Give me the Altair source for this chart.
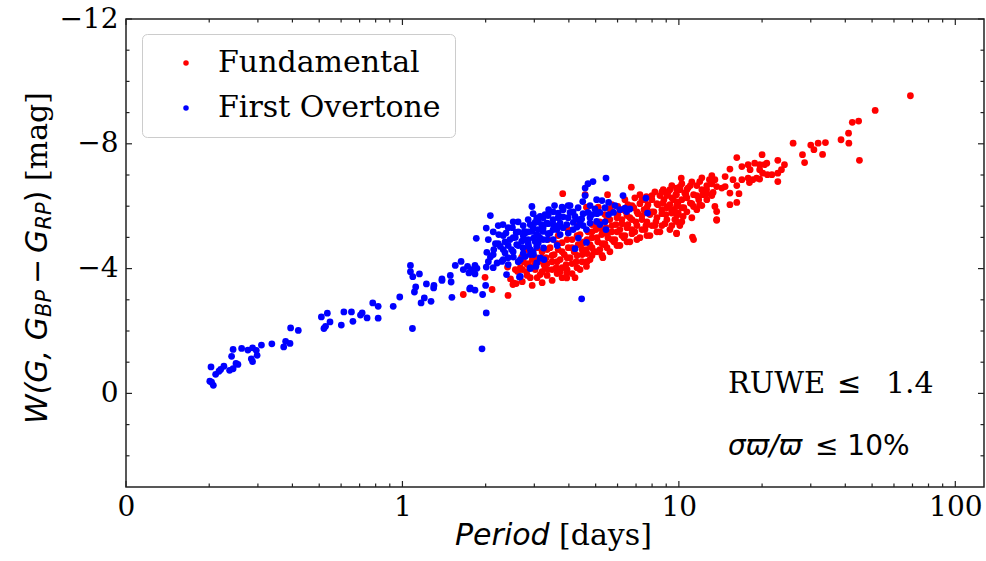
import altair as alt
import pandas as pd

# ---------------- data (period [days], W magnitude) ----------------
fundamental = [
    (1.66, -3.17), (2.11, -3.33), (1.99, -3.72), (2.41, -3.14), (2.40, -4.05), (2.46, -3.67),
    (2.52, -3.54), (2.58, -3.52), (2.51, -3.49), (2.56, -3.97), (2.61, -3.91), (3.00, -4.10),
    (3.06, -4.34), (2.70, -4.37), (3.80, -6.40), (4.58, -6.37), (5.52, -6.37), (6.73, -6.61),
    (8.78, -6.53), (9.81, -6.58), (4.63, -5.97), (5.11, -5.97), (5.63, -5.91), (6.01, -5.99),
    (9.81, -5.14), (3.28, -4.02), (3.93, -3.86), (3.93, -3.70), (4.63, -4.07), (11.3, -4.93),
    (13.7, -5.57), (7.63, -6.31),
    (2.67, -4.03), (2.74, -4.22), (2.81, -3.90), (2.85, -4.16), (2.90, -3.71), (2.95, -4.29),
    (3.02, -3.97), (3.10, -4.22), (3.15, -3.81), (3.20, -4.54), (3.25, -4.13), (3.31, -4.35),
    (3.36, -3.97), (3.42, -4.67), (3.48, -4.22), (3.54, -4.45), (3.60, -4.03), (3.66, -4.61),
    (3.72, -4.29), (3.78, -4.83), (3.85, -4.45), (3.91, -4.13), (3.98, -4.67), (4.04, -4.35),
    (4.11, -4.93), (4.18, -4.54), (4.25, -4.22), (4.32, -4.77), (4.39, -5.09), (4.47, -4.45),
    (4.54, -4.86), (4.62, -4.61), (4.69, -5.18), (4.77, -4.77), (4.85, -4.99), (4.93, -4.54),
    (5.01, -5.25), (5.09, -4.86), (5.18, -5.50), (5.26, -5.09), (5.35, -4.77), (5.45, -5.31),
    (5.54, -4.99), (5.63, -5.57), (5.72, -5.18), (5.82, -4.86), (5.92, -5.41), (6.02, -5.73),
    (6.12, -5.25), (6.22, -5.57), (6.33, -4.99), (6.43, -5.82), (6.54, -5.41), (6.65, -5.63),
    (6.76, -5.25), (6.87, -5.95), (6.99, -5.50), (7.11, -5.76), (7.23, -6.08), (7.35, -5.57),
    (7.48, -5.89), (7.60, -5.38), (7.73, -6.05), (7.86, -5.73), (7.99, -6.21), (8.12, -5.82),
    (8.26, -5.50), (8.40, -6.05), (8.54, -6.34), (8.68, -5.89), (8.83, -6.21), (8.97, -5.73),
    (9.13, -6.43), (9.28, -6.05), (9.43, -6.27), (9.59, -5.89), (9.75, -6.37), (9.92, -6.11),
    (10.08, -6.53), (10.25, -6.21), (10.42, -5.95), (10.6, -6.37), (10.8, -6.59),
    (5.18, -4.61), (5.40, -4.80), (5.63, -4.54), (5.87, -4.93), (6.12, -4.74), (6.38, -5.06),
    (6.65, -4.86), (6.93, -5.18), (7.23, -4.99), (7.54, -5.25), (7.86, -5.06), (8.19, -5.38),
    (8.54, -5.18), (8.90, -5.44), (9.28, -5.25), (9.67, -5.57), (10.08, -5.38),
    (3.36, -4.93), (3.66, -5.06), (3.98, -5.25), (4.32, -5.38), (5.40, -5.73), (5.72, -6.05),
    (6.38, -6.21), (7.23, -6.37), (8.19, -6.46), (5.31, -4.35), (4.77, -4.29), (4.39, -3.97),
    (3.72, -3.90), (4.21, -3.71), (4.85, -5.41), (6.54, -6.05), (7.54, -6.21), (6.93, -6.27),
    (2.713, -3.97), (2.713, -3.58), (2.713, -4.35), (2.827, -3.78), (2.827, -4.61), (2.827, -4.13),
    (2.947, -3.46), (2.947, -4.03), (2.947, -4.45), (3.072, -4.22), (3.072, -3.71), (3.072, -4.67),
    (3.202, -3.90), (3.202, -4.35), (3.202, -3.55), (3.338, -4.16), (3.338, -3.78), (3.338, -4.61),
    (3.479, -3.97), (3.479, -4.42), (3.479, -3.62), (3.627, -4.22), (3.627, -3.84), (3.627, -4.80),
    (3.781, -4.03), (3.781, -4.54), (3.781, -3.71), (3.941, -4.35), (3.941, -3.97), (3.941, -4.93),
    (4.108, -4.16), (4.108, -4.67), (4.108, -3.84), (4.282, -4.42), (4.282, -4.03), (4.282, -5.06),
    (4.464, -4.22), (4.464, -4.80), (4.464, -4.61), (4.654, -4.48), (4.654, -4.93), (4.654, -4.22),
    (4.851, -4.67), (4.851, -5.18), (4.851, -4.42), (5.058, -4.54), (5.058, -4.99), (5.058, -5.38),
    (5.272, -4.80), (5.272, -5.25), (5.272, -4.42), (5.496, -4.67), (5.496, -5.12), (5.496, -5.57),
    (5.729, -4.93), (5.729, -5.38), (5.729, -5.82), (5.972, -4.74), (5.972, -5.18), (5.972, -5.63),
    (6.225, -5.06), (6.225, -5.44), (6.225, -5.89), (6.49, -4.86), (6.49, -5.31), (6.49, -5.70),
    (6.765, -5.12), (6.765, -5.57), (6.765, -6.02), (7.052, -4.93), (7.052, -5.38), (7.052, -5.82),
    (7.351, -5.25), (7.351, -5.70), (7.351, -6.21), (7.663, -5.06), (7.663, -5.50), (7.663, -5.95),
    (7.988, -5.38), (7.988, -5.82), (7.988, -6.34), (8.33, -5.18), (8.33, -5.63), (8.33, -6.08),
    (8.68, -5.38), (8.68, -5.76), (8.68, -6.46), (9.05, -5.57), (9.05, -5.95), (9.05, -6.34),
    (9.43, -5.38), (9.43, -5.82), (9.43, -6.66), (9.83, -5.70), (9.83, -6.14), (9.83, -6.53),
    (10.25, -5.50), (10.25, -5.95), (10.25, -6.72), (10.69, -5.82), (10.69, -6.27), (10.69, -6.53),
    (11.14, -5.63), (11.14, -6.08), (11.14, -6.78), (11.61, -5.89), (11.61, -6.34), (11.61, -6.66),
    (12.11, -6.02), (12.11, -6.53), (12.11, -6.91), (12.62, -6.21), (12.62, -6.66), (12.62, -6.40),
    (13.16, -6.34), (13.16, -6.72), (13.16, -6.98),
    (68.8, -9.54), (51.3, -9.07), (42.4, -8.69), (44.7, -8.73), (41.1, -8.34), (38.6, -8.13),
    (41.2, -8.02), (45.0, -7.47), (33.9, -8.04), (31.9, -8.02), (30.0, -7.96), (30.8, -7.81),
    (33.1, -7.66), (28.0, -7.65), (28.5, -7.40), (25.9, -8.02), (22.8, -7.47), (24.1, -7.33),
    (23.5, -7.17), (22.8, -7.06), (22.8, -6.79), (20.0, -7.65), (18.8, -7.38), (19.6, -7.33),
    (20.4, -7.33), (20.8, -7.38), (19.6, -7.17), (20.1, -7.06), (20.9, -7.01), (21.7, -7.01),
    (19.6, -6.87), (19.1, -6.90), (16.2, -7.56), (16.9, -7.27), (17.8, -7.33), (18.1, -7.17),
    (17.8, -6.90), (18.5, -6.85), (16.9, -6.85), (18.0, -6.76), (15.3, -7.19), (14.7, -6.95),
    (15.7, -6.85), (16.2, -6.66), (16.5, -6.40), (16.2, -6.12), (15.3, -6.05), (13.5, -6.85),
    (12.9, -6.85), (11.9, -6.79), (13.7, -6.63), (14.3, -6.58), (14.7, -6.63), (15.3, -6.42),
    (13.3, -6.44), (12.6, -6.53), (12.2, -6.37), (11.8, -6.21), (11.3, -6.37), (11.0, -6.66),
    (10.2, -6.90), (10.1, -6.63), (10.5, -6.42), (11.0, -6.10), (11.3, -5.99), (13.5, -5.99),
    (13.7, -5.83), (13.7, -5.55), (9.8, -6.37), (9.28, -6.53), (8.90, -6.47), (8.76, -6.10),
    (9.16, -5.99), (9.55, -6.21), (9.81, -5.99), (9.95, -5.78), (9.42, -5.78), (9.81, -5.51),
    (10.36, -5.67), (9.81, -5.12), (11.2, -5.01), (11.9, -6.05),
]

first_overtone = [
    (0.203, -0.85), (0.201, -0.39), (0.207, -0.26), (0.204, -0.36), (0.211, -0.61), (0.217, -0.71),
    (0.220, -0.77), (0.226, -0.87), (0.237, -0.74), (0.244, -0.79), (0.250, -0.96), (0.254, -0.93),
    (0.241, -1.19), (0.244, -1.41), (0.262, -1.44), (0.276, -1.39), (0.287, -1.46), (0.296, -1.38),
    (0.298, -1.22), (0.284, -1.11), (0.287, -1.02), (0.309, -1.55), (0.337, -1.59), (0.372, -1.49),
    (0.378, -1.67), (0.392, -1.60), (0.394, -2.10), (0.420, -2.02), (0.509, -2.45), (0.535, -2.57),
    (0.547, -2.29), (0.520, -2.08), (0.527, -2.15), (0.601, -2.19), (0.614, -2.61), (0.654, -2.61),
    (0.662, -2.31), (0.705, -2.51), (0.715, -2.58), (0.745, -2.42), (0.781, -2.90), (0.817, -2.79),
    (0.817, -2.41), (0.926, -2.79), (0.978, -3.09), (1.087, -2.08), (1.105, -3.25), (1.117, -3.41),
    (1.069, -4.10), (1.069, -3.90), (1.09, -3.74), (1.152, -3.83), (1.168, -2.90), (1.20, -3.06),
    (1.269, -2.95), (1.221, -3.51), (1.297, -3.38), (1.30, -3.46), (1.39, -3.62), (1.50, -3.57),
    (1.51, -3.08), (1.75, -3.35), (1.83, -3.31), (1.94, -1.43), (1.95, -3.17), (2.01, -2.58),
    (2.00, -3.46), (1.39, -3.67), (1.49, -3.78), (1.553, -4.10), (1.63, -4.23), (1.66, -3.97),
    (1.72, -4.07), (1.78, -3.97), (1.83, -4.10), (1.86, -4.01), (1.74, -3.86), (1.83, -3.83),
    (2.01, -4.05), (1.85, -4.97), (2.01, -5.30), (2.08, -5.70), (2.02, -4.52), (2.08, -4.37),
    (1.76, -3.38), (2.23, -5.09), (2.37, -5.14), (2.58, -5.16), (2.76, -5.19), (2.94, -5.99),
    (3.06, -5.62), (2.14, -4.61), (2.26, -4.71), (2.35, -4.50), (2.48, -4.61), (2.59, -4.77),
    (2.74, -4.93), (2.86, -4.71), (2.98, -4.98), (3.10, -4.82), (2.20, -4.18), (2.29, -4.23),
    (2.52, -4.37), (2.67, -4.29), (2.90, -4.45), (2.90, -4.00), (3.06, -4.18), (2.38, -3.81),
    (2.65, -3.73), (5.45, -6.90), (4.89, -6.79), (4.69, -6.72), (4.58, -6.58), (4.58, -6.34),
    (4.49, -6.15), (5.04, -6.21), (5.27, -6.18), (5.57, -6.12), (6.28, -6.34), (7.60, -6.26),
    (3.55, -6.02), (3.78, -5.97), (4.04, -6.02), (3.66, -5.78), (4.04, -5.80), (4.21, -5.67),
    (4.45, -5.59), (4.69, -5.80), (4.97, -5.91), (5.18, -5.80), (5.57, -5.73), (5.80, -5.80),
    (6.12, -5.89), (6.38, -5.94), (6.47, -5.83), (6.65, -5.91), (7.70, -5.78), (3.15, -5.67),
    (2.90, -5.41), (3.02, -5.48), (3.19, -5.41), (3.33, -5.46), (3.51, -5.41), (3.72, -5.46),
    (3.93, -5.41), (4.15, -5.48), (4.28, -5.33), (4.39, -5.46), (4.77, -5.46), (5.04, -5.51),
    (2.78, -5.14), (2.94, -5.19), (3.06, -5.09), (3.23, -5.19), (3.42, -5.14), (3.62, -5.25),
    (3.72, -5.09), (3.98, -5.14), (2.70, -4.87), (2.85, -4.93), (3.02, -4.87), (3.15, -4.98),
    (3.33, -4.93), (3.51, -4.93), (2.73, -4.66), (2.90, -4.61), (3.06, -4.71), (3.24, -4.66),
    (2.78, -4.39), (2.98, -4.45), (3.15, -4.34), (2.90, -4.02), (3.04, -4.07), (2.67, -3.75),
    (3.25, -4.29), (3.63, -4.74), (4.21, -4.64), (4.33, -4.98), (4.63, -4.84), (4.63, -5.25),
    (5.45, -5.25), (5.18, -5.41), (4.45, -3.03), (2.45, -4.93), (2.56, -5.00), (2.35, -4.86),
    (2.50, -5.31), (2.62, -5.50), (3.28, -5.73), (2.31, -5.41), (2.17, -4.80), (2.41, -4.35),
    (3.81, -5.66), (3.38, -5.89), (4.85, -5.73),
    (2.045, -4.93), (2.045, -4.22), (2.130, -5.18), (2.130, -4.45), (2.130, -4.03),
    (2.221, -4.80), (2.221, -5.38), (2.315, -5.06), (2.315, -4.29), (2.315, -4.61),
    (2.413, -5.31), (2.413, -4.74), (2.413, -4.13), (2.515, -4.99), (2.515, -5.50), (2.515, -4.54),
    (2.623, -5.18), (2.623, -4.74), (2.623, -4.22), (2.734, -5.38), (2.734, -5.06), (2.734, -4.48),
    (2.850, -5.57), (2.850, -5.18), (2.850, -4.80), (2.971, -5.31), (2.971, -5.76), (2.971, -4.54),
    (3.097, -5.50), (3.097, -5.06), (3.097, -5.25), (3.228, -5.63), (3.228, -5.31), (3.228, -4.93),
    (3.366, -5.44), (3.366, -5.70), (3.366, -5.12), (3.509, -5.82), (3.509, -5.57), (3.509, -5.25),
    (3.658, -5.63), (3.658, -5.38), (3.813, -5.89), (3.813, -5.31), (3.975, -5.63), (3.975, -6.02),
    (4.144, -5.82), (4.144, -5.25), (4.320, -5.95), (4.320, -5.57), (4.503, -5.76), (4.503, -5.38),
    (4.771, -6.02), (4.771, -5.63), (5.058, -5.76), (5.406, -5.95), (5.406, -5.50), (5.875, -6.02),
]

modes = ["Fundamental", "First Overtone"]
mode_colors = ["#ff0000", "#0000ff"]

x_major = [0.1, 1, 10, 100]
x_minor = [0.2, 0.3, 0.4, 0.5, 0.6, 0.7, 0.8, 0.9, 2, 3, 4, 5, 6, 7, 8, 9,
           20, 30, 40, 50, 60, 70, 80, 90]
y_major = [-12, -8, -4, 0]
y_minor = [-11, -10, -9, -7, -6, -5, -3, -2, -1, 1, 2]

# ---------------- chart ----------------
W, H = 858, 468
INK = "#222222"

rows = [{"period": p, "W": m, "mode": modes[0]} for p, m in fundamental] + \
       [{"period": p, "W": m, "mode": modes[1]} for p, m in first_overtone]
df = pd.DataFrame(rows)

xscale = alt.Scale(type="log", domain=[0.1, 127], nice=False)
yscale = alt.Scale(domain=[-12, 3], reverse=True, nice=False, zero=False)

xaxis = alt.Axis(values=x_major, ticks=False, domain=False, grid=False, title=None,
                 labelExpr="datum.value < 0.5 ? '0' : format(datum.value, 'd')",
                 labelFont="DejaVu Serif", labelFontSize=28, labelColor="black",
                 labelPadding=6, labelFlush=False, labelOverlap=False)
yaxis = alt.Axis(values=y_major, ticks=False, domain=False, grid=False, title=None,
                 labelExpr="datum.value < 0 ? '\u2212' + format(-datum.value, 'd') : format(datum.value, 'd')",
                 labelFont="DejaVu Serif", labelFontSize=28, labelColor="black",
                 labelPadding=8, labelFlush=False, labelOverlap=False)

points = alt.Chart(df).mark_circle(size=46, opacity=1).encode(
    x=alt.X("period:Q", scale=xscale, axis=xaxis),
    y=alt.Y("W:Q", scale=yscale, axis=yaxis),
    color=alt.Color("mode:N", scale=alt.Scale(domain=modes, range=mode_colors),
                    legend=alt.Legend(title=None, orient="none", legendX=16, legendY=15,
                                      padding=14, fillColor="white", strokeColor="#cccccc",
                                      cornerRadius=5, labelFont="DejaVu Serif",
                                      labelFontSize=30, labelColor="black",
                                      symbolType="circle", symbolSize=30, symbolOffset=15,
                                      symbolStrokeWidth=0, labelOffset=17, rowPadding=15,
                                      labelLimit=400)),
)


def x_ticks(vals, length, top):
    d = pd.DataFrame({"v": vals})
    y0 = 0 if top else H
    y1 = length if top else H - length
    return alt.Chart(d).mark_rule(color=INK, strokeWidth=1.2).encode(
        x=alt.X("v:Q", scale=xscale, axis=xaxis), y=alt.value(y0), y2=alt.value(y1))


def y_ticks(vals, length, right):
    d = pd.DataFrame({"v": vals})
    x0 = W if right else 0
    x1 = W - length if right else length
    return alt.Chart(d).mark_rule(color=INK, strokeWidth=1.2).encode(
        y=alt.Y("v:Q", scale=yscale, axis=yaxis), x=alt.value(x0), x2=alt.value(x1))


ticks = [
    x_ticks(x_major, 6, False), x_ticks(x_minor, 3.5, False),
    x_ticks(x_major, 6, True), x_ticks(x_minor, 3.5, True),
    y_ticks(y_major, 6, False), y_ticks(y_minor, 3.5, False),
    y_ticks(y_major, 6, True), y_ticks(y_minor, 3.5, True),
]


def label(text, x, y, font="DejaVu Sans", size=30, style="normal", angle=0):
    return alt.Chart(pd.DataFrame({"t": [text]})).mark_text(
        font=font, fontSize=size, fontStyle=style, angle=angle, align="left",
        baseline="alphabetic", color="black").encode(
        text="t:N", x=alt.value(x), y=alt.value(y))


texts = [
    # x-axis title
    label("Period", 329, 526, style="italic"),
    label("[days]", 433, 526, font="DejaVu Serif"),
    # y-axis title (rotated)
    label("W(G, G", -79, 405, style="italic", angle=270),
    label("BP", -75, 298, size=21, style="italic", angle=270),
    label("\u2212", -79, 265, angle=270),
    label("G", -79, 234, style="italic", angle=270),
    label("RP", -75, 210.6, size=21, style="italic", angle=270),
    label(")", -79, 183.3, angle=270),
    label("[mag]", -79, 162, font="DejaVu Serif", angle=270),
    # annotations
    label("RUWE", 602, 374, font="DejaVu Serif", size=29),
    label("\u2264", 711, 374, size=29),
    label("1.4", 760, 374, font="DejaVu Serif", size=30),
    label("\u03c3\u03d6/\u03d6", 602, 436, size=28, style="italic"),
    label("\u2264 10%", 689, 436, size=28),
]

chart = alt.layer(points, *ticks, *texts).properties(
    width=W, height=H,
    autosize=alt.AutoSizeParams(type="none"),
    padding={"left": 126, "top": 19, "right": 2, "bottom": 74},
    background="white",
).configure_view(stroke=INK, strokeWidth=1.5)

chart.save("out.html", embed_options={"renderer": "svg", "actions": False})
